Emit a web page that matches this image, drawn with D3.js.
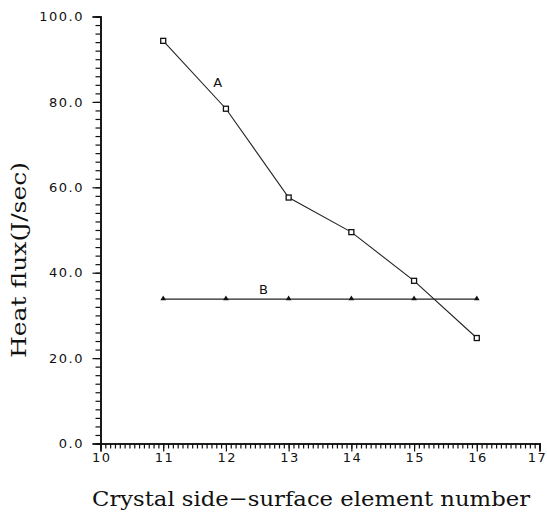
<!DOCTYPE html>
<html>
<head>
<meta charset="utf-8">
<script src="https://cdn.jsdelivr.net/npm/d3@7"></script>
<style>
  html, body { margin: 0; padding: 0; background: #fff; }
  svg { display: block; }
</style>
</head>
<body>
<svg id="chart" width="547" height="516"></svg>
<script>
// ---- data ----
const elements = [11, 12, 13, 14, 15, 16];
const seriesA = [94.3, 78.4, 57.6, 49.5, 38.1, 24.7];
const seriesB = [33.8, 33.8, 33.8, 33.8, 33.8, 33.8];
const seriesNames = ["A", "B"];
const xTicks = [10, 11, 12, 13, 14, 15, 16, 17];
const yTicks = [0, 20, 40, 60, 80, 100];
const xTitle = "Crystal side\u2212surface element number";
const yTitle = "Heat flux(J/sec)";

// ---- layout ----
const svg = d3.select("#chart");
const x = d3.scaleLinear().domain([10, 17]).range([100.5, 539.5]);
const y = d3.scaleLinear().domain([0, 100]).range([443.5, 16.5]);
const ink = "#111";

// minor ticks
const xMinor = d3.range(0, 7 * 13 + 1).map(i => 10 + i / 13);
const yMinor = d3.range(0, 51).map(i => i * 2);

const gxMinor = svg.append("g").attr("transform", `translate(0,${y(0)})`)
  .call(d3.axisBottom(x).tickValues(xMinor).tickSize(5).tickFormat(""));
const gyMinor = svg.append("g").attr("transform", `translate(${x(10)},0)`)
  .call(d3.axisLeft(y).tickValues(yMinor).tickSize(5).tickFormat(""));

const gx = svg.append("g").attr("transform", `translate(0,${y(0)})`)
  .call(d3.axisBottom(x).tickValues(xTicks).tickSize(8).tickPadding(1.5).tickFormat(d3.format("d")));
const gy = svg.append("g").attr("transform", `translate(${x(10)},0)`)
  .call(d3.axisLeft(y).tickValues(yTicks).tickSize(8).tickPadding(8.5).tickFormat(d3.format(".1f")));

[gxMinor, gyMinor, gx, gy].forEach(g => {
  g.selectAll("path.domain").attr("stroke", ink).attr("stroke-width", 1.6);
  g.selectAll(".tick line").attr("stroke", ink).attr("stroke-width", 1.2);
  g.selectAll(".tick text")
    .attr("fill", ink)
    .style("font-family", "'DejaVu Sans', sans-serif")
    .style("font-size", "13px")
    .style("letter-spacing", "1.5px");
});
gx.selectAll(".tick text").attr("dx", d => d === 17 ? "-2.5px" : "0.75px");

// ---- lines ----
const dataA = elements.map((e, i) => ({ x: e, y: seriesA[i] }));
const dataB = elements.map((e, i) => ({ x: e, y: seriesB[i] }));
const line = d3.line().x(d => x(d.x)).y(d => y(d.y));

svg.append("path").datum(dataA).attr("d", line)
  .attr("fill", "none").attr("stroke", "#222").attr("stroke-width", 1.1);
svg.append("path").datum(dataB).attr("d", line)
  .attr("fill", "none").attr("stroke", "#222").attr("stroke-width", 1.1);

// markers A: open squares
svg.append("g").selectAll("rect").data(dataA).join("rect")
  .attr("x", d => x(d.x) - 2.5).attr("y", d => y(d.y) - 2.5)
  .attr("width", 5).attr("height", 5)
  .attr("fill", "#fff").attr("stroke", ink).attr("stroke-width", 1.3);

// markers B: filled triangles
const tri = d3.symbol().type(d3.symbolTriangle).size(14);
svg.append("g").selectAll("path").data(dataB).join("path")
  .attr("d", tri)
  .attr("transform", d => `translate(${x(d.x)},${y(d.y) - 0.5})`)
  .attr("fill", ink);

// series labels
const labelPos = [{ x: 11.87, y: 84.6 }, { x: 12.6, y: 36.1 }];
svg.append("g").selectAll("text").data(seriesNames).join("text")
  .attr("x", (d, i) => x(labelPos[i].x))
  .attr("y", (d, i) => y(labelPos[i].y))
  .attr("text-anchor", "middle")
  .attr("dominant-baseline", "central")
  .style("font-family", "'DejaVu Sans', sans-serif")
  .style("font-size", "13px")
  .attr("fill", ink)
  .text(d => d);

// axis titles
svg.append("text")
  .attr("x", 311).attr("y", 506)
  .attr("text-anchor", "middle")
  .attr("textLength", 438).attr("lengthAdjust", "spacingAndGlyphs")
  .style("font-family", "'DejaVu Serif', serif")
  .style("font-size", "21px")
  .attr("fill", ink)
  .text(xTitle);

svg.append("text")
  .attr("transform", "translate(26,260) rotate(-90)")
  .attr("text-anchor", "middle")
  .attr("textLength", 196).attr("lengthAdjust", "spacingAndGlyphs")
  .style("font-family", "'DejaVu Serif', serif")
  .style("font-size", "21px")
  .attr("fill", ink)
  .text(yTitle);
</script>
</body>
</html>
